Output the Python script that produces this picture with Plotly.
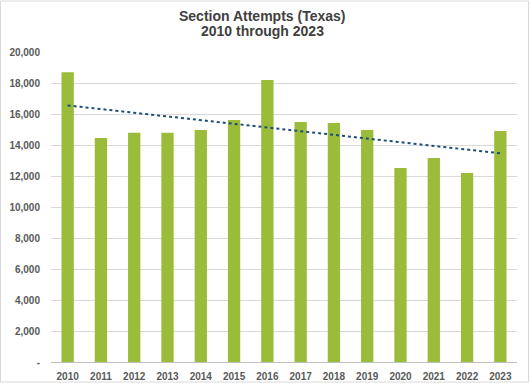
import numpy as np
import plotly.graph_objects as go

years = ["2010", "2011", "2012", "2013", "2014", "2015", "2016",
         "2017", "2018", "2019", "2020", "2021", "2022", "2023"]
attempts = [18700, 14450, 14790, 14790, 14970, 15610, 18190,
            15480, 15420, 14970, 12520, 13160, 12190, 14900]
y_tick_vals = [0, 2000, 4000, 6000, 8000, 10000, 12000, 14000, 16000, 18000, 20000]
y_tick_text = ["-", "2,000", "4,000", "6,000", "8,000", "10,000", "12,000",
               "14,000", "16,000", "18,000", "20,000"]
title_lines = ["Section Attempts (Texas)", "2010 through 2023"]

# linear trendline (least squares) from the data
idx = np.arange(len(attempts))
slope, intercept = np.polyfit(idx, attempts, 1)
trend = (slope * idx + intercept).tolist()

L, R, T, B = 51, 13, 52, 24
PW, PH = 530 - L - R, 386 - T - B


def px_x(px):
    return (px - L) / PW


def px_y(py):
    return (386 - B - py) / PH


fig = go.Figure()
fig.add_trace(go.Bar(x=years, y=attempts, marker=dict(color="#9BBB3A", line=dict(width=0)),
                     showlegend=False, hoverinfo="skip"))
fig.add_trace(go.Scatter(x=years, y=trend, mode="lines",
                         line=dict(color="#1F4E79", width=2, dash="dot"),
                         showlegend=False, hoverinfo="skip"))

title_font = dict(family="Liberation Sans, Arial, sans-serif", size=14,
                  color="#404040", weight="bold")
annotations = [
    dict(text=title_lines[0], xref="paper", yref="paper", x=px_x(262), y=px_y(16),
         xanchor="center", yanchor="middle", showarrow=False, font=title_font),
    dict(text=title_lines[1], xref="paper", yref="paper", x=px_x(262), y=px_y(31),
         xanchor="center", yanchor="middle", showarrow=False, font=title_font),
]

fig.update_layout(
    width=530, height=386,
    margin=dict(l=L, r=R, t=T, b=B, autoexpand=False),
    paper_bgcolor="white", plot_bgcolor="white",
    bargap=0.63,
    font=dict(family="Liberation Sans, Arial, sans-serif", size=10, color="#595959"),
    xaxis=dict(showgrid=False, showline=True, linecolor="#BFBFBF", linewidth=1,
               ticklabelstandoff=5, automargin=False,
               tickfont=dict(size=10, color="#595959", weight="bold"), ticks=""),
    yaxis=dict(range=[0, 20000], tickvals=y_tick_vals, ticktext=y_tick_text,
               showgrid=True, gridcolor="#D9D9D9", gridwidth=1, zeroline=False,
               ticklabelstandoff=10, automargin=False,
               tickfont=dict(size=10, color="#595959", weight="bold"), ticks=""),
    annotations=annotations,
    shapes=[dict(type="rect", xref="paper", yref="paper",
                 x0=px_x(0.5), x1=px_x(528.5), y0=px_y(382), y1=px_y(1),
                 line=dict(color="#D9D9D9", width=1))],
)

fig.write_html("out.html", config={"displayModeBar": False},
               post_script="document.body.style.margin='0';document.body.style.overflow='hidden';")
